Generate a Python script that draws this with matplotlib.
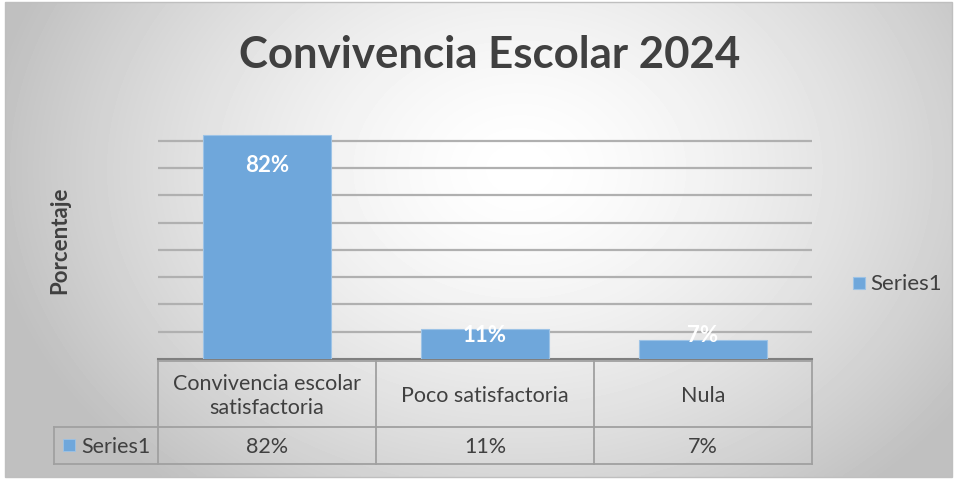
import numpy as np
import matplotlib
matplotlib.use("Agg")
import matplotlib.pyplot as plt
from matplotlib.lines import Line2D
from matplotlib.patches import Rectangle

# data
categories = ["Convivencia escolar\nsatisfactoria", "Poco satisfactoria", "Nula"]
values = [0.82, 0.11, 0.07]
series_name = "Series1"
title = "Convivencia Escolar 2024"
y_label = "Porcentaje"

W, H = 958, 481
bar_color = "#6FA7DB"
text_color = "#404040"
line_color = "#A0A0A0"

plt.rcParams['font.family'] = ['Lato', 'DejaVu Sans']

fig = plt.figure(figsize=(W / 100, H / 100), dpi=100)

# background with radial gradient, in pixel coords
bg = fig.add_axes([0, 0, 1, 1], zorder=0)
bg.set_xlim(0, W)
bg.set_ylim(H, 0)
bg.axis('off')
xx, yy = np.meshgrid(np.linspace(5, 952, 300), np.linspace(3, 478, 150))
r = np.sqrt(((xx - 520) / 540) ** 2 + ((yy - 170) / 420) ** 2)
shade = 1.0 - 0.25 * np.clip(r, 0, 1) ** 1.5
bg.imshow(shade, cmap='gray', vmin=0, vmax=1, extent=(5, 952, 478, 3),
          aspect='auto', interpolation='bilinear')
bg.add_patch(Rectangle((5, 3), 947, 475, fill=False, ec="#BFBFBF", lw=1))

# plot area
left, right, base = 158, 812, 360
ymax = 0.9
px_per_unit = 273
top = base - ymax * px_per_unit
ax = fig.add_axes([left / W, 1 - base / H, (right - left) / W, (base - top) / H], zorder=2)
ax.patch.set_alpha(0)
x = np.arange(len(categories))
ax.bar(x, values, width=0.59, color=bar_color, edgecolor="#9DC3E6", linewidth=0.8, zorder=3)
ax.set_xlim(-0.5, len(categories) - 0.5)
ax.set_ylim(0, ymax)
ax.set_yticks(np.arange(1, 9) / 10)
ax.yaxis.grid(True, color="#B0B0B0", linewidth=1.6, zorder=1)
ax.tick_params(left=False, bottom=False, labelleft=False, labelbottom=False)
for s in ['top', 'right', 'left']:
    ax.spines[s].set_visible(False)
ax.spines['bottom'].set_color("#7F7F7F")
ax.spines['bottom'].set_linewidth(1.5)

for xi, v in zip(x, values):
    ax.text(xi, max(v - 0.106, 0.088), f"{v:.0%}", ha='center', va='center',
            color='white', fontsize=16, fontweight='bold', zorder=4)

# title, axis label, legend
fig.text(490 / W, 1 - 55 / H, title, ha='center', va='center',
         fontsize=31.5, fontweight='bold', color=text_color)
fig.text(60 / W, 1 - 240 / H, y_label, ha='center', va='center', rotation=90,
         fontsize=16, fontweight='bold', color=text_color)
bg.add_patch(Rectangle((853, 278), 12, 12, fc=bar_color, ec="#9DC3E6", lw=0.8))
bg.text(870, 284, series_name, ha='left', va='center', fontsize=16, color=text_color)

# data table
t_top, t_mid, t_bot, t_left = 362, 428, 465, 54
col_w = (right - left) / len(categories)
lw = 1.3
bg.add_line(Line2D([left, right], [t_top, t_top], color=line_color, lw=lw))
bg.add_line(Line2D([t_left, right], [t_mid, t_mid], color=line_color, lw=lw))
bg.add_line(Line2D([t_left, right], [t_bot, t_bot], color=line_color, lw=lw))
bg.add_line(Line2D([t_left, t_left], [t_mid, t_bot], color=line_color, lw=lw))
for i in range(len(categories) + 1):
    cx = left + i * col_w
    bg.add_line(Line2D([cx, cx], [t_top, t_bot], color=line_color, lw=lw))
for i, (cat, v) in enumerate(zip(categories, values)):
    cx = left + (i + 0.5) * col_w
    bg.text(cx, (t_top + t_mid) / 2 + 1, cat, ha='center', va='center', fontsize=15.5,
            color=text_color, linespacing=1.2)
    bg.text(cx, (t_mid + t_bot) / 2 + 1, f"{v:.0%}", ha='center', va='center',
            fontsize=15.5, color=text_color)
bg.add_patch(Rectangle((63, 440), 12, 12, fc=bar_color, ec="#9DC3E6", lw=0.6))
bg.text(81, (t_mid + t_bot) / 2 + 1, series_name, ha='left', va='center',
        fontsize=15.5, color=text_color)

fig.savefig("out.png", dpi=100)
